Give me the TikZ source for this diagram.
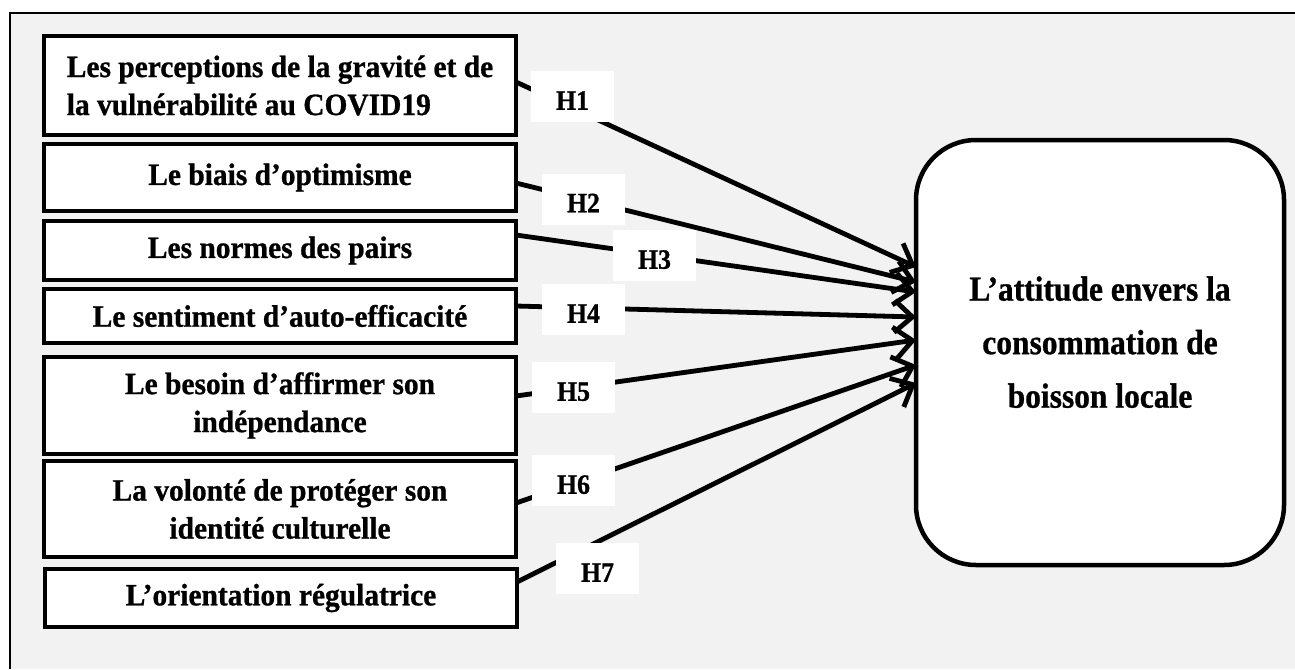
\documentclass[tikz,border=0pt]{standalone}
\usepackage{fontspec}
\setmainfont{Liberation Serif}
\newfontfamily\lfont[FakeStretch=0.95,FakeBold=0.8]{Liberation Serif}
\newfontfamily\rfont[FakeStretch=0.9,FakeBold=0.8]{Liberation Serif}
\newfontfamily\hfont[FakeStretch=0.92,FakeBold=0.9]{Liberation Serif}
\usetikzlibrary{arrows.meta,shadows}
\definecolor{bgray}{HTML}{F2F2F2}
\begin{document}
\begin{tikzpicture}[x=1pt,y=-1pt,
  leftbox/.style={draw, line width=4.5pt, fill=white, minimum width=472pt,
    inner sep=0pt, outer sep=0pt, align=center,
    font=\lfont\bfseries\fontsize{31}{38}\selectfont,
    drop shadow={opacity=0.3, shadow xshift=2pt, shadow yshift=-2pt}},
  hlabel/.style={fill=white, minimum width=83pt, minimum height=51pt,
    inner sep=0pt, font=\hfont\bfseries\fontsize{28}{30}\selectfont,
    text height=26.5pt, text depth=0pt},
  link/.style={line width=4.8pt, -{Straight Barb[length=18pt,width=32pt]},
    preaction={draw=black, opacity=0.18, transform canvas={shift={(1.5pt,-2pt)}}}}
]
\useasboundingbox (0,0) rectangle (1295,669);
\fill[white] (0,0) rectangle (1295,669);
\fill[bgray] (10,13) rectangle (1295,669);
\draw[line width=2.5pt] (10,669) -- (10,13) -- (1295,13);

\node[leftbox, minimum height=99pt, align=left] (b1) at (280,85.5)
  {Les perceptions de la gravité et de\\la vulnérabilité au COVID19};
\node[leftbox, minimum height=67pt] (b2) at (280,177.5) {Le biais d’optimisme};
\node[leftbox, minimum height=59pt] (b3) at (280,250.5) {Les normes des pairs};
\node[leftbox, minimum height=54pt] (b4) at (280,316) {Le sentiment d’auto-efficacité};
\node[leftbox, minimum height=97pt] (b5) at (280,405.5) {Le besoin d’affirmer son\\indépendance};
\node[leftbox, minimum height=96pt] (b6) at (280,509) {La volonté de protéger son\\identité culturelle};
\node[leftbox, minimum height=58pt] (b7) at (281,598) {L’orientation régulatrice};

\node[draw, line width=4.5pt, fill=white, rounded corners=60pt, minimum width=368pt,
  minimum height=425pt, inner sep=0pt, outer sep=0pt, align=center,
  text depth=21pt,
  font=\rfont\bfseries\fontsize{35}{53.5}\selectfont] (att) at (1100,352.5)
  {L’attitude envers la\\consommation de\\boisson locale};

\draw[link] ([yshift=3.5pt]b1.east) -- ([yshift=85.5pt]att.west);
\draw[link] ([yshift=-5.5pt]b2.east) -- ([yshift=70.5pt]att.west);
\draw[link] ([yshift=15.5pt]b3.east) -- ([yshift=60.5pt]att.west);
\draw[link] ([yshift=10pt]b4.east) -- ([yshift=35.5pt]att.west);
\draw[link] ([yshift=9.5pt]b5.east) -- ([yshift=12.5pt]att.west);
\draw[link] ([yshift=6pt]b6.east) -- ([yshift=-12.5pt]att.west);
\draw[link] ([yshift=16pt]b7.east) -- ([yshift=-30.5pt]att.west);

\node[hlabel] (h1) at (572.5,96.5) {H1};
\node[hlabel] (h2) at (583.5,199) {H2};
\node[hlabel] (h3) at (654.5,255.5) {H3};
\node[hlabel] (h4) at (583.5,309.5) {H4};
\node[hlabel] (h5) at (573.5,387.5) {H5};
\node[hlabel] (h6) at (573.5,480.5) {H6};
\node[hlabel] (h7) at (597.5,568.5) {H7};
\end{tikzpicture}
\end{document}
